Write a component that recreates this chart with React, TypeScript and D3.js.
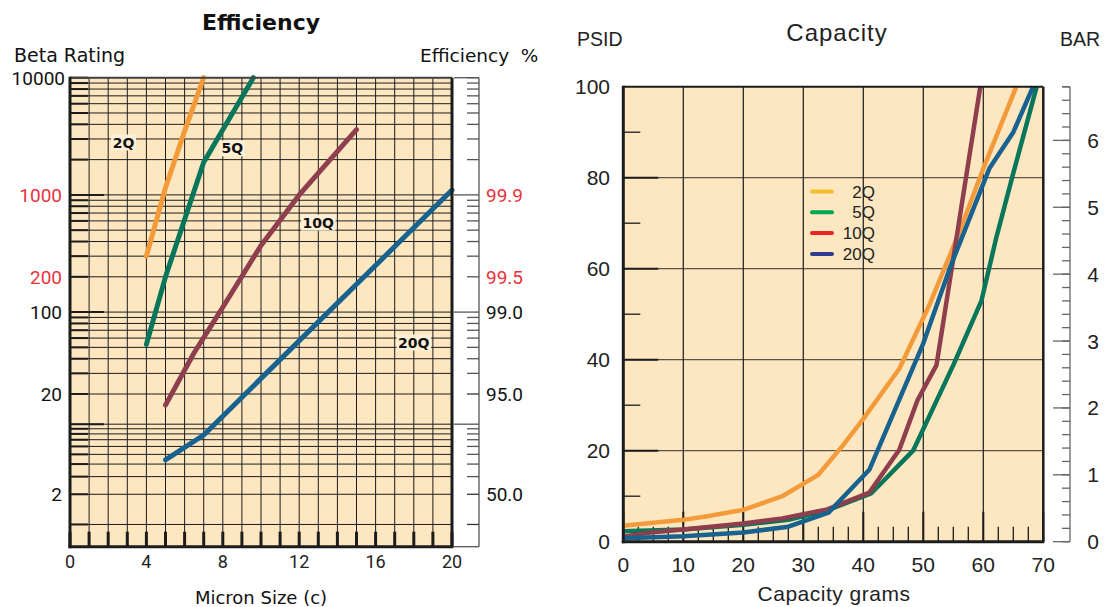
import React from "react";
import * as d3 from "d3";

// ---- Efficiency chart data (micron size vs beta rating) ----
const eff2Q: [number, number][] = [[4, 300], [5, 1150], [6, 3500], [7, 10000]];
const eff5Q: [number, number][] = [[4, 53], [5, 200], [7, 1900], [9.6, 10000]];
const eff10Q: [number, number][] = [[5, 15.5], [6.5, 45], [8, 110], [10, 370], [12, 1000], [15, 3600]];
const eff20Q: [number, number][] = [[5, 4.4], [7, 7.8], [20, 1100]];

const microTicks = [0, 4, 8, 12, 16, 20];
const betaLabels = [10000, 1000, 200, 100, 20, 2];
const betaRed = [1000, 200];
const effLabels = ["99.9", "99.5", "99.0", "95.0", "50.0"];
const effRed = ["99.9", "99.5"];

// where the series names sit (micron, beta)
const effNames = ["2Q", "5Q", "10Q", "20Q"];
const effNameAt: [number, number][] = [[2.8, 2800], [8.5, 2500], [13, 580], [18, 55]];

// ---- Capacity chart data (grams vs PSID) ----
const cap2Q: [number, number][] = [[0, 3.5], [10, 4.8], [14, 5.6], [20, 7], [26.5, 10], [32.5, 14.7], [36.5, 21], [40, 27], [46, 38], [51, 52], [56, 68], [60, 82], [65.5, 100]];
const cap5Q: [number, number][] = [[0, 2.3], [10, 2.7], [20, 3.7], [27.5, 4.8], [34, 6.9], [41.3, 10.6], [48.3, 20], [55, 38.8], [59.7, 53], [62.2, 67], [65, 81], [68.9, 100]];
const cap10Q: [number, number][] = [[0, 1.1], [5, 2.1], [10, 2.7], [20, 4], [26.5, 5.1], [34, 7.1], [41, 10.8], [46, 20.2], [49, 31], [52.2, 38.8], [59.5, 100]];
const cap20Q: [number, number][] = [[0, 0.75], [10, 1.2], [20, 2], [27.5, 3.3], [34.2, 6.4], [41, 15.8], [45.5, 29.7], [50, 43.6], [54.5, 60.4], [61, 82], [65, 90], [68.3, 100]];

const gramTicks = [0, 10, 20, 30, 40, 50, 60, 70];
const psidTicks = [0, 20, 40, 60, 80, 100];
const barTicks = [0, 1, 2, 3, 4, 5, 6];
const PSI_PER_BAR = 14.7;

const legendNames = ["2Q", "5Q", "10Q", "20Q"];
const legendColors = ["#f2c029", "#00a651", "#ec2227", "#2e3c91"];

const lineColors = ["#f39b3b", "#07765a", "#8e3e4d", "#17628f"];
const BG = "#fde7c0";
const INK = "#1c1c1c";

const App: React.FC = () => {
  // ---------- left chart ----------
  const L = { x0: 70, x1: 452, y0: 77.7, y1: 546.7 };
  const lx = d3.scaleLinear().domain([0, 20]).range([L.x0, L.x1]);
  const ly = d3.scaleLog().domain([0.6, 20, 10000]).range([L.y1, 394, L.y0]);

  const gridBeta: number[] = [];
  for (let n = 0; n <= 3; n++) for (let k = 1; k <= 9; k++) gridBeta.push(k * Math.pow(10, n));
  gridBeta.push(10000);
  const decades = [10, 100, 1000];

  const effLine = d3
    .line<[number, number]>()
    .x((d) => lx(d[0]))
    .y((d) => ly(d[1]));

  const effSeries = [eff2Q, eff5Q, eff10Q, eff20Q];
  const betaFromEff = (e: string) => 1 / (1 - +e / 100);

  // ---------- right chart ----------
  const R = { x0: 623.3, x1: 1043.3, y0: 86.7, y1: 541.7 };
  const rx = d3.scaleLinear().domain([0, 70]).range([R.x0, R.x1]);
  const ry = d3.scaleLinear().domain([0, 100]).range([R.y1, R.y0]);
  const rb = d3.scaleLinear().domain([0, 100 / PSI_PER_BAR]).range([R.y1, R.y0]);

  const capLine = d3
    .line<[number, number]>()
    .x((d) => rx(d[0]))
    .y((d) => ry(d[1]));
  const capSeries = [cap2Q, cap5Q, cap10Q, cap20Q];

  const minorGram = d3.range(0, 70.01, 2.5);
  const minorPsid = d3.range(10, 100, 20);
  const minorBar = d3.range(0, 100 / PSI_PER_BAR, 0.2);
  const barAxisX = 1070;

  const numFont = "Roboto, 'Noto Sans', sans-serif";
  const wordFont = "'DejaVu Sans', 'Noto Sans', sans-serif";
  const rightFont = "'Liberation Sans', Arial, sans-serif";

  return (
    <svg
      width={1107}
      height={607}
      style={{ position: "absolute", left: 0, top: 0, background: "#fff" }}
    >
      {/* ================= Efficiency ================= */}
      <g fontFamily={numFont}>
        <rect x={L.x0} y={L.y0} width={L.x1 - L.x0} height={L.y1 - L.y0} fill={BG} />
        {/* horizontal log grid */}
        {gridBeta.map((b) => (
          <line key={"h" + b} x1={L.x0} x2={L.x1} y1={ly(b)} y2={ly(b)} stroke={INK} strokeWidth={1} />
        ))}
        {/* vertical grid */}
        {d3.range(0, 21).map((m) => (
          <line key={"v" + m} x1={lx(m)} x2={lx(m)} y1={L.y0} y2={L.y1} stroke={INK} strokeWidth={1} />
        ))}
        {/* left ticks */}
        {gridBeta.map((b) => (
          <line
            key={"lt" + b}
            x1={L.x0}
            x2={L.x0 + (decades.includes(b) ? 34 : 18)}
            y1={ly(b)}
            y2={ly(b)}
            stroke={INK}
            strokeWidth={2}
          />
        ))}
        {/* bottom ticks */}
        {d3.range(0, 21).map((m) => (
          <line key={"bt" + m} x1={lx(m)} x2={lx(m)} y1={L.y1 - 15} y2={L.y1} stroke={INK} strokeWidth={3} />
        ))}

        {effSeries.map((s, i) => (
          <path
            key={"e" + i}
            d={effLine(s) || ""}
            fill="none"
            stroke={lineColors[i]}
            strokeWidth={5}
            strokeLinecap="round"
            strokeLinejoin="round"
          />
        ))}

        {effNames.map((n, i) => {
          const cx = lx(effNameAt[i][0]);
          const cy = ly(effNameAt[i][1]);
          const w = n.length * 9.5 + 6;
          return (
            <g key={"n" + n}>
              <rect x={cx - w / 2} y={cy - 8} width={w} height={16} fill="#fdf0d6" />
              <text
                x={cx}
                y={cy}
                dy="0.36em"
                textAnchor="middle"
                fontFamily={wordFont}
                fontSize={14}
                fontWeight={700}
                fill="#111"
              >
                {n}
              </text>
            </g>
          );
        })}

        {/* frame */}
        <line x1={L.x0} x2={L.x1} y1={L.y0} y2={L.y0} stroke="#444" strokeWidth={2} />
        <line x1={L.x1} x2={L.x1} y1={L.y0} y2={L.y1} stroke={INK} strokeWidth={3} />
        <line x1={L.x0} x2={L.x0} y1={L.y0 - 1} y2={L.y1 + 1.5} stroke={INK} strokeWidth={3} />
        <line x1={L.x0 - 1.5} x2={L.x1 + 1.5} y1={L.y1} y2={L.y1} stroke={INK} strokeWidth={3} />

        {/* efficiency axis */}
        <g stroke="#555" strokeWidth={1.3}>
          <line x1={479} x2={479} y1={L.y0} y2={L.y1} />
          <line x1={454} x2={479} y1={L.y0} y2={L.y0} />
          <line x1={454} x2={479} y1={L.y1} y2={L.y1} />
          {gridBeta.map((b) => (
            <line
              key={"et" + b}
              x1={decades.includes(b) ? 454 : 467}
              x2={479}
              y1={ly(b)}
              y2={ly(b)}
              stroke={b === 1 || b === 2 || b === 20 ? "#333" : "#555"}
            />
          ))}
        </g>

        {/* labels */}
        <text x={261} y={30} textAnchor="middle" fontFamily={wordFont} fontSize={22} fontWeight={700} fill="#111">
          Efficiency
        </text>
        <text x={14} y={62} fontFamily={wordFont} fontSize={19} fill="#111">
          Beta Rating
        </text>
        <text x={420} y={62} fontFamily={wordFont} fontSize={18.5} fill="#111" style={{ whiteSpace: "pre" }}>
          {"Efficiency  %"}
        </text>
        {betaLabels.map((b) => (
          <text
            key={"bl" + b}
            x={b === 10000 ? 65 : 62}
            y={ly(b)}
            dy="0.36em"
            textAnchor="end"
            fontSize={19}
            fill={betaRed.includes(b) ? "#e8333c" : "#111"}
          >
            {b}
          </text>
        ))}
        {effLabels.map((e) => (
          <text
            key={"el" + e}
            x={486}
            y={ly(betaFromEff(e))}
            dy="0.36em"
            fontSize={19}
            fill={effRed.includes(e) ? "#e8333c" : "#111"}
          >
            {e}
          </text>
        ))}
        {microTicks.map((m) => (
          <text key={"mx" + m} x={lx(m)} y={568} textAnchor="middle" fontSize={18} fill="#222">
            {m}
          </text>
        ))}
        <text x={261} y={604} textAnchor="middle" fontFamily={wordFont} fontSize={18} fill="#111">
          Micron Size (c)
        </text>
      </g>

      {/* ================= Capacity ================= */}
      <g fontFamily={rightFont}>
        <rect x={R.x0} y={R.y0} width={R.x1 - R.x0} height={R.y1 - R.y0} fill={BG} />
        {psidTicks.slice(1, -1).map((p) => (
          <line key={"rh" + p} x1={R.x0} x2={R.x1} y1={ry(p)} y2={ry(p)} stroke="#5a544a" strokeWidth={1.2} />
        ))}
        {gramTicks.slice(1, -1).map((g) => (
          <line key={"rv" + g} x1={rx(g)} x2={rx(g)} y1={R.y0} y2={R.y1} stroke={INK} strokeWidth={1.2} />
        ))}
        {minorGram.map((g) => (
          <line
            key={"rbt" + g}
            x1={rx(g)}
            x2={rx(g)}
            y1={R.y1 - (g % 10 === 0 ? 30 : 15)}
            y2={R.y1}
            stroke={INK}
            strokeWidth={g % 10 === 0 ? 2 : 1.3}
          />
        ))}
        {psidTicks.slice(1, -1).map((p) => (
          <line key={"rlt" + p} x1={R.x0} x2={R.x0 + 35} y1={ry(p)} y2={ry(p)} stroke={INK} strokeWidth={2} />
        ))}
        {minorPsid.map((p) => (
          <line key={"rlm" + p} x1={R.x0} x2={R.x0 + 17} y1={ry(p)} y2={ry(p)} stroke={INK} strokeWidth={1.3} />
        ))}

        {capSeries.map((s, i) => (
          <path
            key={"c" + i}
            d={capLine(s) || ""}
            fill="none"
            stroke={lineColors[i]}
            strokeWidth={4.5}
            strokeLinejoin="round"
          />
        ))}

        {/* frame */}
        <line x1={R.x0} x2={R.x1} y1={R.y0} y2={R.y0} stroke={INK} strokeWidth={2} />
        <line x1={R.x1} x2={R.x1} y1={R.y0} y2={R.y1} stroke={INK} strokeWidth={2.5} />
        <line x1={R.x0} x2={R.x0} y1={R.y0 - 1} y2={R.y1 + 1.5} stroke={INK} strokeWidth={3} />
        <line x1={R.x0 - 1.5} x2={R.x1 + 1} y1={R.y1} y2={R.y1} stroke={INK} strokeWidth={3} />

        {/* legend */}
        {legendNames.map((n, i) => {
          const y = 191.5 + i * 20.8;
          return (
            <g key={"lg" + n}>
              <line x1={812} x2={832} y1={y} y2={y} stroke={legendColors[i]} strokeWidth={4} strokeLinecap="round" />
              <text x={875} y={y} dy="0.36em" textAnchor="end" fontSize={17} fill="#222">
                {n}
              </text>
            </g>
          );
        })}

        {/* BAR axis */}
        <g stroke="#666" strokeWidth={1.3}>
          <line x1={barAxisX} x2={barAxisX} y1={R.y0} y2={R.y1} />
          {minorBar.map((b) => (
            <line key={"mb" + b} x1={barAxisX - 8} x2={barAxisX} y1={rb(b)} y2={rb(b)} />
          ))}
          <line x1={barAxisX - 8} x2={barAxisX} y1={R.y0} y2={R.y0} />
          {barTicks.map((b) => (
            <line key={"Mb" + b} x1={barAxisX - 17} x2={barAxisX} y1={rb(b)} y2={rb(b)} />
          ))}
        </g>
        {barTicks.map((b) => (
          <text key={"bt" + b} x={1093} y={rb(b)} dy="0.36em" textAnchor="middle" fontSize={21} fill="#222">
            {b}
          </text>
        ))}

        {psidTicks.map((p) => (
          <text key={"py" + p} x={610} y={ry(p)} dy="0.36em" textAnchor="end" fontSize={21} fill="#222">
            {p}
          </text>
        ))}
        {gramTicks.map((g) => (
          <text key={"gx" + g} x={rx(g)} y={572} textAnchor="middle" fontSize={21} fill="#222">
            {g}
          </text>
        ))}
        <text x={837} y={41} textAnchor="middle" fontSize={24} letterSpacing={1} fill="#222">
          Capacity
        </text>
        <text x={577} y={46} fontSize={19.5} fill="#222">
          PSID
        </text>
        <text x={1060} y={46} fontSize={19.5} fill="#222">
          BAR
        </text>
        <text x={834} y={601} textAnchor="middle" fontSize={21} letterSpacing={0.5} fill="#222">
          Capacity grams
        </text>
      </g>
    </svg>
  );
};

export default App;
